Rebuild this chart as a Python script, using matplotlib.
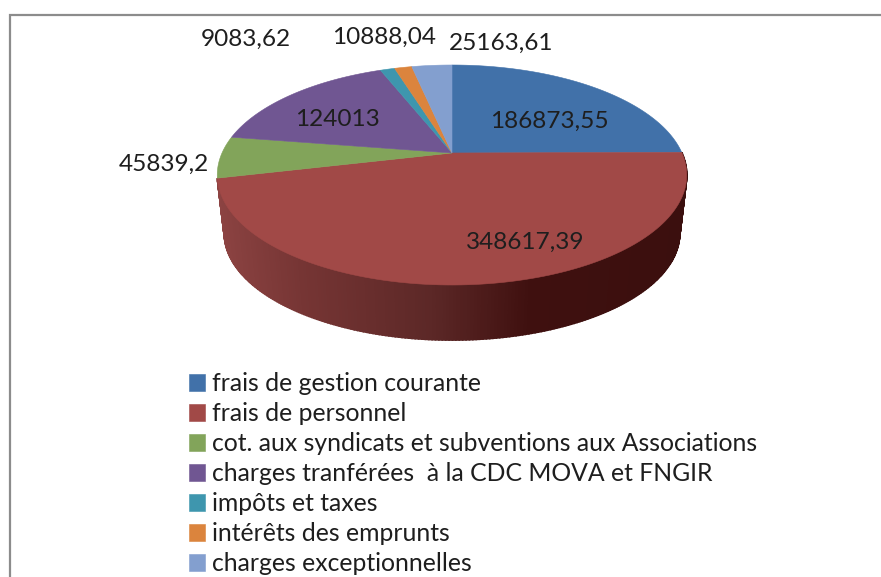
import numpy as np
import matplotlib
matplotlib.use("Agg")
import matplotlib.pyplot as plt
from matplotlib.patches import Polygon
from matplotlib.colors import to_rgb

# data
categories = ["frais de gestion courante", "frais de personnel",
              "cot. aux syndicats et subventions aux Associations",
              "charges tranférées  à la CDC MOVA et FNGIR",
              "impôts et taxes", "intérêts des emprunts", "charges exceptionnelles"]
values = [186873.55, 348617.39, 45839.2, 124013, 9083.62, 10888.04, 25163.61]
value_labels = ["186873,55", "348617,39", "45839,2", "124013", "9083,62", "10888,04", "25163,61"]

colors = ["#4171a9", "#a14947", "#82a45a", "#705692", "#3e96ae", "#db843d", "#839fcf"]
label_xy = [(549, 121), (525, 242), (164, 164), (337, 119), (246, 39), (384, 37), (501, 43)]

plt.rcParams["font.family"] = ["Lato", "DejaVu Sans"]

fig = plt.figure(figsize=(8.81, 5.77), dpi=100)
ax = fig.add_axes([0, 0, 1, 1])
ax.set_xlim(0, 881)
ax.set_ylim(577, 0)
ax.axis("off")

# pie geometry, pixels
cx, cy = 452, 153
rx, ry, k = 230, 105.6, 0.2


def top_xy(t):
    u, v = np.cos(t), np.sin(t)
    s = 1 / (1 + k * v)
    return cx + rx * u * s, cy - ry * v * s


def bottom_xy(t):
    x, y = top_xy(t)
    return cx + (x - cx) * 0.97, cy + (y - cy) * 0.97 + 59


# angles go clockwise from twelve o'clock
angles = np.radians(90 - 360 * np.cumsum([0] + values) / sum(values))

# side of the red slice, shaded from left to right
shade_x = [216, 300, 430, 530, 690]
shade_c = np.array([to_rgb(c) for c in ["#8c4342", "#763534", "#5c2827", "#3f100f", "#3b0f0e"]])
ts = np.linspace(angles[1], angles[2], 240)
for a, b in zip(ts[:-1], ts[1:]):
    xa, ya = top_xy(a)
    xb, yb = top_xy(b)
    xc, yc = bottom_xy(b)
    xd, yd = bottom_xy(a)
    col = [np.interp((xa + xb) / 2, shade_x, shade_c[:, i]) for i in range(3)]
    ax.add_patch(Polygon([(xa, ya), (xb, yb), (xc, yc), (xd, yd)], fc=col, ec=col, lw=1.2))

# top face
for i, name in enumerate(categories):
    t = np.linspace(angles[i], angles[i + 1], 120)
    x, y = top_xy(t)
    pts = [(cx, cy)] + list(zip(x, y))
    ax.add_patch(Polygon(pts, fc=colors[i], ec=colors[i], lw=0.4, label=name))

for txt, (x, y) in zip(value_labels, label_xy):
    ax.text(x, y, txt, fontsize=17.6, color="#1e1e1e", ha="center", va="center")

# frame of the original picture
ax.plot([10, 10, 881], [577, 15, 15], color="#8c8c8c", lw=1.6, solid_joinstyle="miter")

ax.legend(loc="upper left", bbox_to_anchor=(189 / 881, 1 - 372 / 577), frameon=False,
          fontsize=17.8, borderpad=0, borderaxespad=0, handlelength=0.65, handleheight=0.65,
          handletextpad=0.28, labelspacing=0.285, labelcolor="#1e1e1e")

fig.savefig("out.png", dpi=100)
